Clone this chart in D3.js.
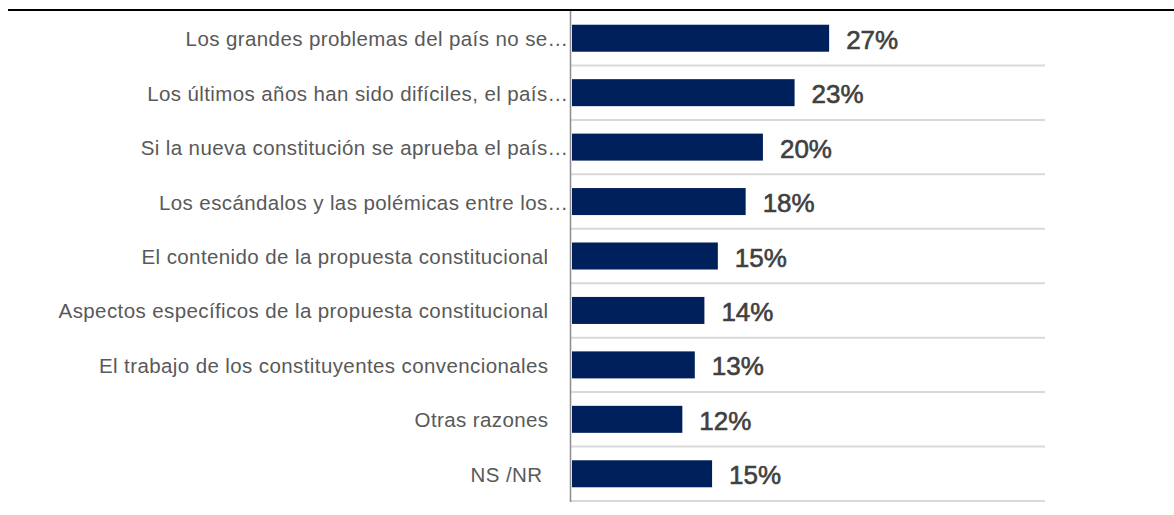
<!DOCTYPE html>
<html>
<head>
<meta charset="utf-8">
<script src="https://cdn.jsdelivr.net/npm/d3@7"></script>
<style>
  html, body { margin: 0; padding: 0; background: #fff; }
  svg { display: block; }
</style>
</head>
<body>
<svg id="chart" width="1174" height="515"></svg>
<script>
// ---- data ----
const categories = [
  "Los grandes problemas del país no se…",
  "Los últimos años han sido difíciles, el país…",
  "Si la nueva constitución se aprueba el país…",
  "Los escándalos y las polémicas entre los…",
  "El contenido de la propuesta constitucional",
  "Aspectos específicos de la propuesta constitucional",
  "El trabajo de los constituyentes convencionales",
  "Otras razones",
  "NS /NR\u00a0"
];
const values = [26.8, 23.2, 19.9, 18.1, 15.2, 13.8, 12.8, 11.5, 14.6];
const valueLabels = ["27%", "23%", "20%", "18%", "15%", "14%", "13%", "12%", "15%"];

// ---- layout ----
const W = 1174, H = 515;
const axisX = 570.5;
const plotTop = 11, plotBottom = 501;
const svg = d3.select("#chart");

const x = d3.scaleLinear().domain([0, 49.3]).range([572, 1045]);
const band = d3.scaleBand().domain(categories).range([plotTop, plotBottom]);

// gridlines at band boundaries
svg.append("g").selectAll("line").data(categories).join("line")
  .attr("x1", axisX).attr("x2", 1045)
  .attr("y1", d => band(d) + band.bandwidth())
  .attr("y2", d => band(d) + band.bandwidth())
  .attr("stroke", "#d9d9d9").attr("stroke-width", 2);

// bars
svg.append("g").selectAll("rect").data(values).join("rect")
  .attr("x", x(0))
  .attr("y", (d, i) => band(categories[i]) + band.bandwidth() / 2 - 13.5)
  .attr("width", d => x(d) - x(0))
  .attr("height", 27)
  .attr("fill", "#00205b");

// value labels
svg.append("g").selectAll("text").data(values).join("text")
  .attr("x", d => x(d) + 17)
  .attr("y", (d, i) => band(categories[i]) + band.bandwidth() / 2 + 10.5)
  .attr("font-family", "Liberation Sans, Arial, sans-serif")
  .attr("font-size", 26)
  .attr("fill", "#404040")
  .attr("stroke", "#404040")
  .attr("stroke-width", 0.6)
  .text((d, i) => valueLabels[i]);

// category labels
svg.append("g").selectAll("text").data(categories).join("text")
  .attr("x", d => d.endsWith("…") ? axisX - 2 : axisX - 22)
  .attr("y", d => band(d) + band.bandwidth() / 2 + 8)
  .attr("text-anchor", "end")
  .attr("font-family", "Liberation Sans, Arial, sans-serif")
  .attr("font-size", 20.5)
  .attr("letter-spacing", 0.4)
  .attr("fill", "#595959")
  .text(d => d);

// vertical axis
svg.append("line")
  .attr("x1", axisX).attr("x2", axisX)
  .attr("y1", 10).attr("y2", plotBottom + 1)
  .attr("stroke", "#8c8c8c").attr("stroke-width", 1.5);

// top rule
svg.append("line")
  .attr("x1", 8).attr("x2", W)
  .attr("y1", 10).attr("y2", 10)
  .attr("stroke", "#000").attr("stroke-width", 2);
</script>
</body>
</html>
